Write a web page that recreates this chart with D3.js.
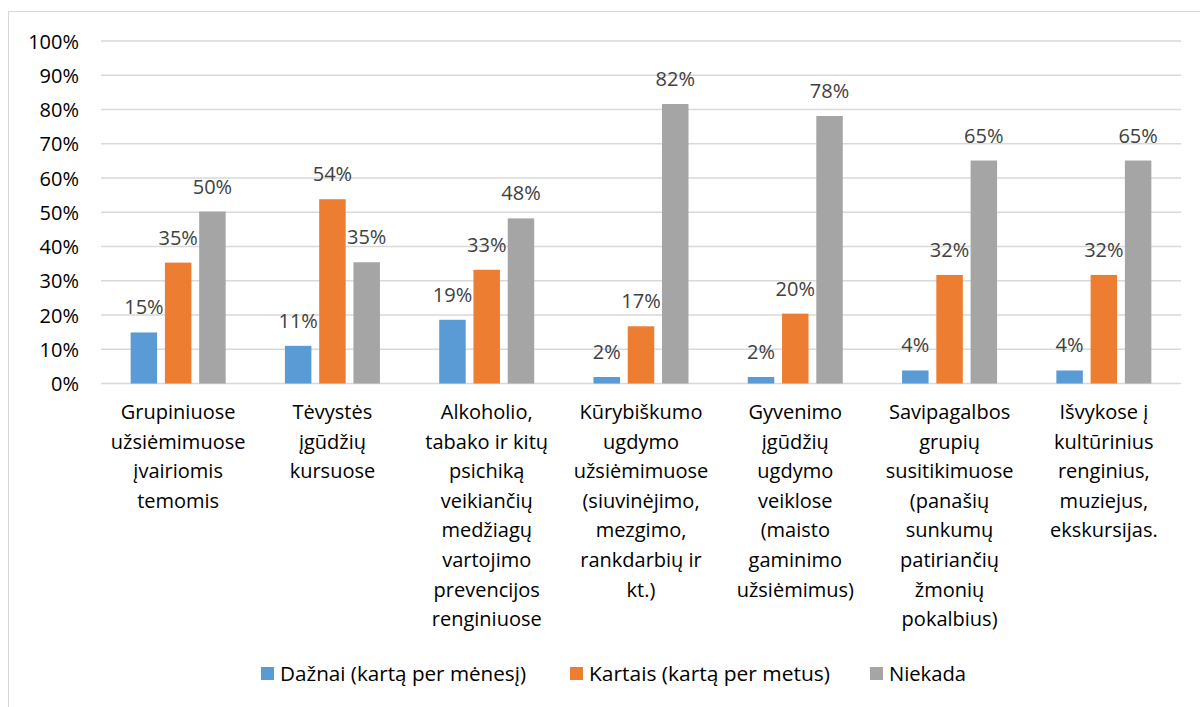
<!DOCTYPE html>
<html>
<head>
<meta charset="utf-8">
<script src="https://cdn.jsdelivr.net/npm/d3@7"></script>
<style>
  html, body { margin: 0; padding: 0; background: #fff; }
  svg { display: block; font-family: "Open Sans", "Noto Sans", sans-serif; }
</style>
</head>
<body>
<svg id="chart" width="1200" height="707"></svg>
<script>
// ---- data ----
const categories = [
  ["Grupiniuose", "užsiėmimuose", "įvairiomis", "temomis"],
  ["Tėvystės", "įgūdžių", "kursuose"],
  ["Alkoholio,", "tabako ir kitų", "psichiką", "veikiančių", "medžiagų", "vartojimo", "prevencijos", "renginiuose"],
  ["Kūrybiškumo", "ugdymo", "užsiėmimuose", "(siuvinėjimo,", "mezgimo,", "rankdarbių ir", "kt.)"],
  ["Gyvenimo", "įgūdžių", "ugdymo", "veiklose", "(maisto", "gaminimo", "užsiėmimus)"],
  ["Savipagalbos", "grupių", "susitikimuose", "(panašių", "sunkumų", "patiriančių", "žmonių", "pokalbius)"],
  ["Išvykose į", "kultūrinius", "renginius,", "muziejus,", "ekskursijas."]
];
const seriesNames = ["Dažnai (kartą per mėnesį)", "Kartais (kartą per metus)", "Niekada"];
const seriesColors = ["#5b9bd5", "#ed7d31", "#a5a5a5"];
const dazna   = [0.149, 0.110, 0.186, 0.019, 0.019, 0.038, 0.038];
const kartais = [0.353, 0.538, 0.332, 0.167, 0.204, 0.317, 0.317];
const niekada = [0.502, 0.354, 0.482, 0.816, 0.781, 0.651, 0.651];
const valueLabels = [
  ["15%", "11%", "19%", "2%", "2%", "4%", "4%"],
  ["35%", "54%", "33%", "17%", "20%", "32%", "32%"],
  ["50%", "35%", "48%", "82%", "78%", "65%", "65%"]
];
const yTicks = [0, 0.1, 0.2, 0.3, 0.4, 0.5, 0.6, 0.7, 0.8, 0.9, 1.0];
const seriesValues = [dazna, kartais, niekada];

// ---- layout ----
const svg = d3.select("#chart");
const plot = { left: 101, right: 1181, top: 41, bottom: 383.5 };

// chart border (open on right/bottom as cropped)
svg.append("rect")
  .attr("x", 8.5).attr("y", 11.5)
  .attr("width", 1220).attr("height", 720)
  .attr("fill", "none").attr("stroke", "#d9d9d9").attr("stroke-width", 1);

const x0 = d3.scaleBand()
  .domain(d3.range(categories.length))
  .range([plot.left, plot.right])
  .padding(0);
const x1 = d3.scaleBand()
  .domain(d3.range(seriesNames.length))
  .range([-47.5, 47.5])
  .paddingInner(0.227)
  .paddingOuter(0);
const y = d3.scaleLinear().domain([0, 1]).range([plot.bottom, plot.top]);

// gridlines
svg.append("g").selectAll("line")
  .data(yTicks)
  .join("line")
  .attr("x1", plot.left).attr("x2", plot.right)
  .attr("y1", d => y(d)).attr("y2", d => y(d))
  .attr("stroke", "#d9d9d9").attr("stroke-width", 1.3);

// y axis labels
const yAxis = d3.axisLeft(y).tickValues(yTicks).tickFormat(d3.format(".0%")).tickSize(0).tickPadding(0);
const yg = svg.append("g").attr("transform", `translate(79,0)`).call(yAxis);
yg.select(".domain").remove();
yg.selectAll("text")
  .attr("font-size", 20)
  .attr("font-family", "'Open Sans', sans-serif")
  .attr("fill", "#000")
  .attr("dy", "0.35em");

// bars
const groups = svg.append("g").selectAll("g")
  .data(categories.map((c, i) => i))
  .join("g")
  .attr("transform", i => `translate(${x0(i) + x0.bandwidth() / 2},0)`);

groups.selectAll("rect")
  .data(i => seriesValues.map((vals, s) => ({ s, v: vals[i], i })))
  .join("rect")
  .attr("x", d => x1(d.s))
  .attr("width", x1.bandwidth())
  .attr("y", d => y(d.v))
  .attr("height", d => y(0) - y(d.v))
  .attr("fill", d => seriesColors[d.s]);

groups.selectAll("text.val")
  .data(i => seriesValues.map((vals, s) => ({ s, v: vals[i], i })))
  .join("text")
  .attr("class", "val")
  .attr("x", d => x1(d.s) + x1.bandwidth() / 2)
  .attr("y", d => y(d.v) - 18)
  .attr("text-anchor", "middle")
  .attr("font-size", 20)
  .attr("fill", "#404040")
  .text(d => valueLabels[d.s][d.i]);

// category labels
groups.each(function (i) {
  const t = d3.select(this).append("text")
    .attr("text-anchor", "middle")
    .attr("font-size", 20)
    .attr("fill", "#000");
  categories[i].forEach((line, k) => {
    t.append("tspan").attr("x", 0).attr("y", 419 + k * 29.6).text(line);
  });
});

// legend
const legendX = [261, 570, 870];
const legendW = [246, 241, 77];
const lg = svg.append("g").selectAll("g")
  .data(seriesNames.map((n, s) => s))
  .join("g")
  .attr("transform", s => `translate(${legendX[s]},0)`);
lg.append("rect")
  .attr("x", 0).attr("y", 667).attr("width", 13).attr("height", 13)
  .attr("fill", s => seriesColors[s]);
lg.append("text")
  .attr("x", 19).attr("y", 681)
  .attr("font-size", 20)
  .attr("fill", "#000")
  .attr("textLength", s => legendW[s])
  .attr("lengthAdjust", "spacingAndGlyphs")
  .text(s => seriesNames[s]);
</script>
</body>
</html>
